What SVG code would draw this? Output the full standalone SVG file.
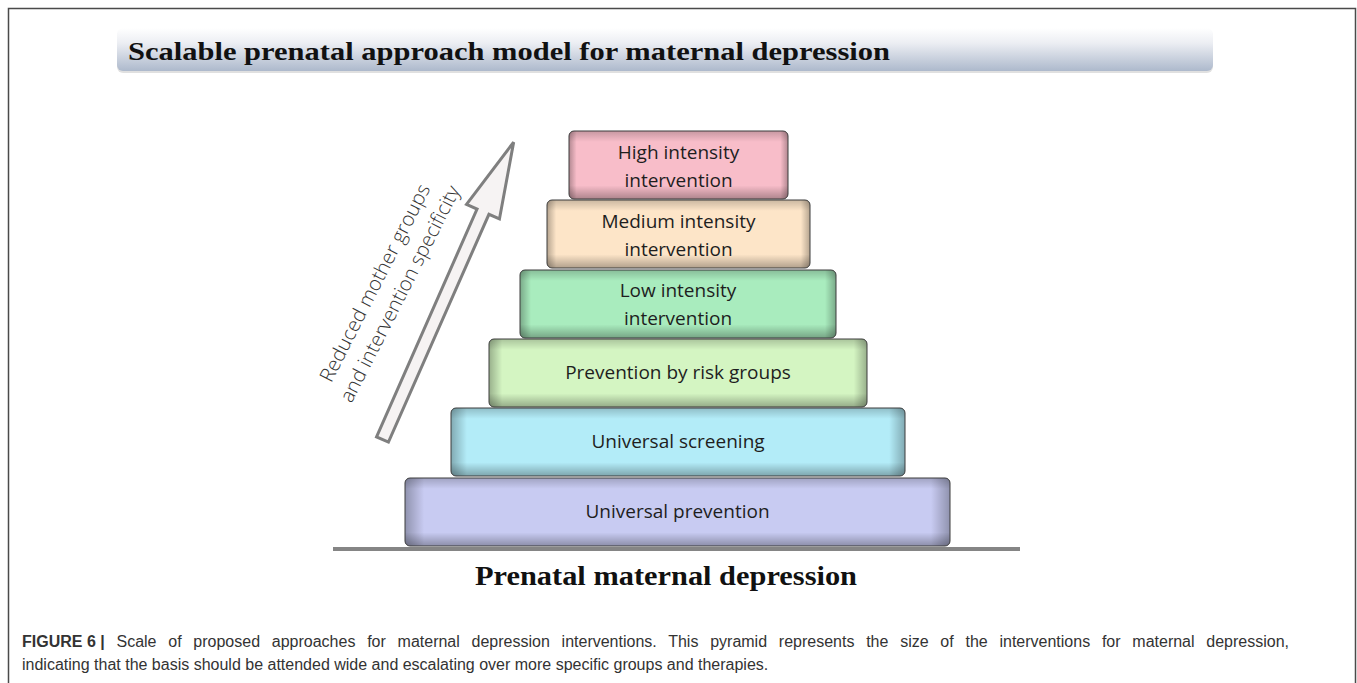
<svg xmlns="http://www.w3.org/2000/svg" width="1357" height="683" viewBox="0 0 1357 683">
<defs>
<linearGradient id="tg" x1="0" y1="0" x2="0" y2="1">
<stop offset="0" stop-color="#ffffff"/>
<stop offset="0.35" stop-color="#eceef3"/>
<stop offset="1" stop-color="#adb9cc"/>
</linearGradient>
<linearGradient id="vh" x1="0" y1="0" x2="1" y2="0">
<stop offset="0" stop-color="#000" stop-opacity="0.28"/>
<stop offset="0.035" stop-color="#000" stop-opacity="0"/>
<stop offset="0.965" stop-color="#000" stop-opacity="0"/>
<stop offset="1" stop-color="#000" stop-opacity="0.28"/>
</linearGradient>
<linearGradient id="vv" x1="0" y1="0" x2="0" y2="1">
<stop offset="0" stop-color="#000" stop-opacity="0.2"/>
<stop offset="0.16" stop-color="#000" stop-opacity="0"/>
<stop offset="0.8" stop-color="#000" stop-opacity="0"/>
<stop offset="1" stop-color="#000" stop-opacity="0.3"/>
</linearGradient>
</defs>
<style>
.box{stroke:#3c3c3c;stroke-width:1}
.sh{stroke:none}
.bt{font-family:"Open Sans","Noto Sans",sans-serif;font-size:19px;fill:#1e1e1e;text-anchor:middle}
.ser{font-family:"Liberation Serif","DejaVu Serif",serif;font-weight:bold;fill:#111}
.cap{font-family:"Liberation Sans",Arial,sans-serif;font-size:16px;fill:#333}
.arr{font-family:"Open Sans","Noto Sans",sans-serif;font-weight:300;font-size:20px;fill:#333;text-anchor:middle}
</style>
<rect width="1357" height="683" fill="#ffffff"/>
<path d="M8.5 683 V8.5 H1355.5 V683" fill="none" stroke="#4a4a4a" stroke-width="1.5"/>

<g id="title">
<rect x="117" y="30" width="1096" height="43" rx="6" fill="#000" opacity="0.12"/>
<rect x="117" y="28" width="1096" height="43" rx="6" fill="url(#tg)"/>
<text x="128" y="60" class="ser" font-size="26" textLength="762" lengthAdjust="spacingAndGlyphs">Scalable prenatal approach model for maternal depression</text>
</g>

<g id="arrow">
<polygon points="0,-6.5 249,-6.5 249,-18 325,0 249,18 249,6.5 0,6.5" transform="translate(382.5,439.5) rotate(-66.2)" fill="#f6f3f3" stroke="#7f7f7f" stroke-width="3" stroke-linejoin="miter"/>
<text class="arr" transform="translate(381,286) rotate(-63)">Reduced mother groups</text>
<text class="arr" transform="translate(406,297) rotate(-63)">and intervention specificity</text>
</g>

<g id="n6">
<rect x="405" y="478" width="545" height="68" rx="5" fill="#c8cbf2"/>
<rect class="sh" x="405" y="478" width="545" height="68" rx="5" fill="url(#vh)"/>
<rect class="sh" x="405" y="478" width="545" height="68" rx="5" fill="url(#vv)"/>
<rect class="box" x="405" y="478" width="545" height="68" rx="5" fill="none"/>
<text class="bt" x="677.5" y="518">Universal prevention</text>
</g>
<g id="n5">
<rect x="451" y="408" width="454" height="68" rx="5" fill="#b3ecf8"/>
<rect class="sh" x="451" y="408" width="454" height="68" rx="5" fill="url(#vh)"/>
<rect class="sh" x="451" y="408" width="454" height="68" rx="5" fill="url(#vv)"/>
<rect class="box" x="451" y="408" width="454" height="68" rx="5" fill="none"/>
<text class="bt" x="678" y="448">Universal screening</text>
</g>
<g id="n4">
<rect x="489" y="339" width="378" height="68" rx="5" fill="#d4f5c2"/>
<rect class="sh" x="489" y="339" width="378" height="68" rx="5" fill="url(#vh)"/>
<rect class="sh" x="489" y="339" width="378" height="68" rx="5" fill="url(#vv)"/>
<rect class="box" x="489" y="339" width="378" height="68" rx="5" fill="none"/>
<text class="bt" x="678" y="379">Prevention by risk groups</text>
</g>
<g id="n3">
<rect x="520" y="270" width="316" height="68" rx="5" fill="#a9ecbe"/>
<rect class="sh" x="520" y="270" width="316" height="68" rx="5" fill="url(#vh)"/>
<rect class="sh" x="520" y="270" width="316" height="68" rx="5" fill="url(#vv)"/>
<rect class="box" x="520" y="270" width="316" height="68" rx="5" fill="none"/>
<text class="bt" x="678" y="297">Low intensity</text>
<text class="bt" x="678" y="325">intervention</text>
</g>
<g id="n2">
<rect x="547" y="200" width="263" height="68" rx="5" fill="#fde5c8"/>
<rect class="sh" x="547" y="200" width="263" height="68" rx="5" fill="url(#vh)"/>
<rect class="sh" x="547" y="200" width="263" height="68" rx="5" fill="url(#vv)"/>
<rect class="box" x="547" y="200" width="263" height="68" rx="5" fill="none"/>
<text class="bt" x="678.5" y="228">Medium intensity</text>
<text class="bt" x="678.5" y="256">intervention</text>
</g>
<g id="n1">
<rect x="569" y="131" width="219" height="68" rx="5" fill="#f8bdc9"/>
<rect class="sh" x="569" y="131" width="219" height="68" rx="5" fill="url(#vh)"/>
<rect class="sh" x="569" y="131" width="219" height="68" rx="5" fill="url(#vv)"/>
<rect class="box" x="569" y="131" width="219" height="68" rx="5" fill="none"/>
<text class="bt" x="678.5" y="159">High intensity</text>
<text class="bt" x="678.5" y="187">intervention</text>
</g>

<g id="ground">
<rect x="333" y="547" width="687" height="4" fill="#858585"/>
<text x="475" y="585" class="ser" font-size="28" textLength="382" lengthAdjust="spacingAndGlyphs">Prenatal maternal depression</text>
</g>

<g id="caption">
<text class="cap" x="22" y="647"><tspan font-weight="bold">FIGURE 6 |</tspan><tspan word-spacing="7.3"> Scale of proposed approaches for maternal depression interventions. This pyramid represents the size of the interventions for maternal depression,</tspan></text>
<text class="cap" x="22" y="670">indicating that the basis should be attended wide and escalating over more specific groups and therapies.</text>
</g>
</svg>
